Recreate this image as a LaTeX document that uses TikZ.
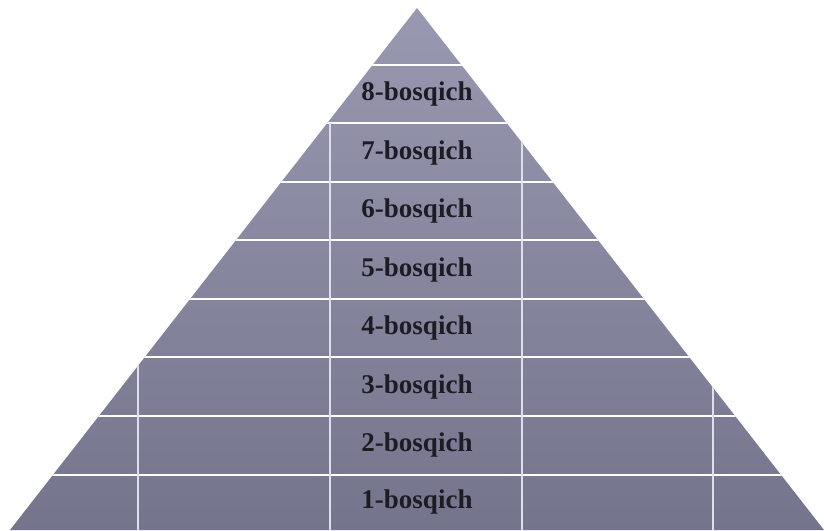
\documentclass[tikz,border=0pt]{standalone}
\usepackage{fontspec}
\setmainfont{Liberation Serif}
\definecolor{pyrtop}{RGB}{154,153,178}
\definecolor{pyrbot}{RGB}{116,116,140}
\definecolor{vlinec}{RGB}{222,222,238}
\definecolor{lblc}{RGB}{28,28,36}
\begin{document}
\begin{tikzpicture}[x=1pt,y=1pt,
  hline/.style={draw=white,line width=2pt},
  vline/.style={draw=vlinec,line width=1.2pt},
  lbl/.style={font=\fontsize{27}{30}\selectfont\bfseries,text=lblc,inner sep=0pt}]
\useasboundingbox (0,0) rectangle (824,530);
\coordinate (apex) at (417,522);
\coordinate (bl) at (10,0);
\coordinate (br) at (824,0);
\begin{scope}
  \clip (bl) -- (apex) -- (br) -- cycle;
  \shade[top color=pyrtop, bottom color=pyrbot] (0,0) rectangle (824,530);
  \foreach \yy in {65,123.5,182,240.5,299,357.5,416,474.5}
    \draw[hline] (0,530-\yy) -- (824,530-\yy);
  \foreach \xx in {330,522}
    \draw[vline] (\xx,530-123.5) -- (\xx,0);
  \foreach \xx in {138,713}
    \draw[vline] (\xx,530-357.5) -- (\xx,0);
\end{scope}
\node[lbl] (s8) at (417,530-94.25) {8-bosqich};
\node[lbl] (s7) at (417,530-152.75) {7-bosqich};
\node[lbl] (s6) at (417,530-211.25) {6-bosqich};
\node[lbl] (s5) at (417,530-269.75) {5-bosqich};
\node[lbl] (s4) at (417,530-328.25) {4-bosqich};
\node[lbl] (s3) at (417,530-386.75) {3-bosqich};
\node[lbl] (s2) at (417,530-445.25) {2-bosqich};
\node[lbl] (s1) at (417,530-502) {1-bosqich};
\end{tikzpicture}
\end{document}
